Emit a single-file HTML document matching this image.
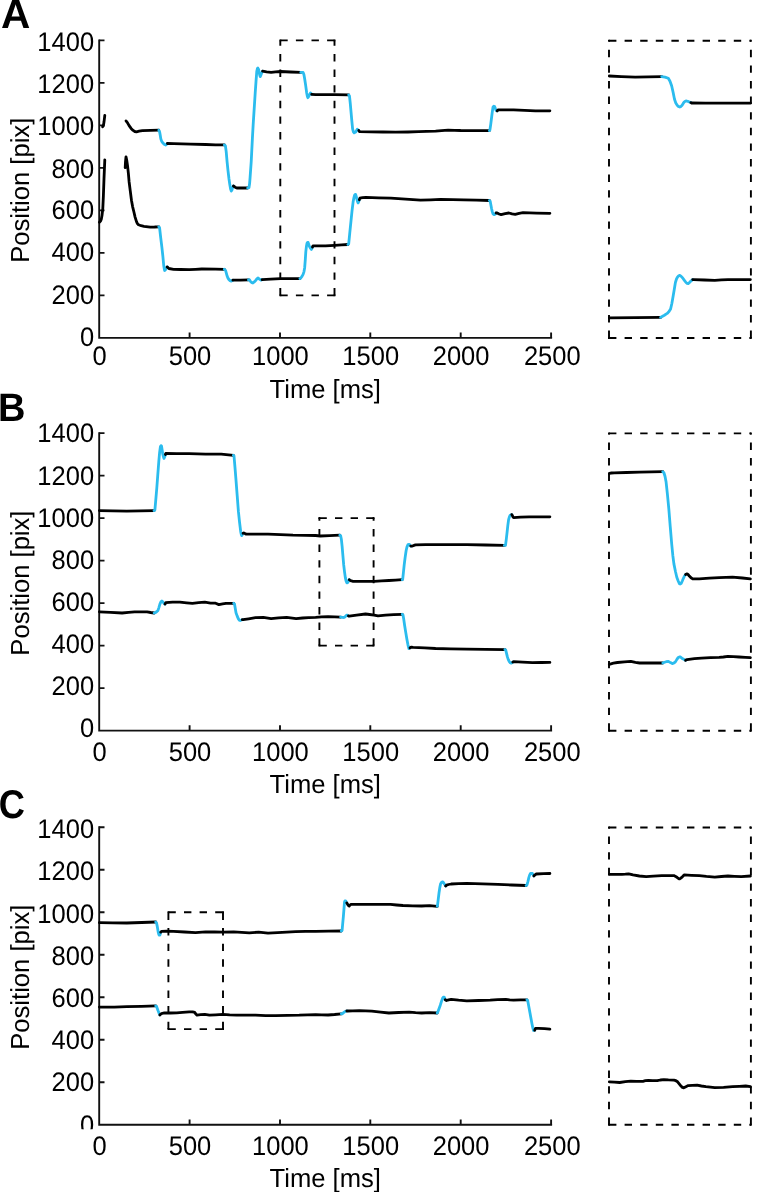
<!DOCTYPE html>
<html><head><meta charset="utf-8"><title>Figure</title>
<style>
html,body{margin:0;padding:0;background:#fff;}
body{width:769px;height:1192px;overflow:hidden;}
svg{display:block;will-change:transform;}
text{font-family:"Liberation Sans",sans-serif;fill:#000;text-rendering:geometricPrecision;}
.t{font-size:25.6px;}
.n{font-size:25.5px;}
.pl{font-size:39px;font-weight:bold;}
.ax{stroke:#111;stroke-width:1.9;fill:none;stroke-linecap:butt;}
.k{stroke:#000;stroke-width:2.8;fill:none;stroke-linejoin:round;stroke-linecap:round;}
.b{stroke:#2bbcee;stroke-width:2.8;fill:none;stroke-linejoin:round;stroke-linecap:round;}
.d{stroke:#000;stroke-width:1.9;fill:none;stroke-dasharray:7.4 8.2;stroke-linecap:butt;}
</style></head><body>
<svg width="769" height="1192" viewBox="0 0 769 1192">
<rect x="0" y="0" width="769" height="1192" fill="#fff"/>
<defs><clipPath id="cc"><rect x="0" y="0" width="769" height="1129.3"/></clipPath></defs>
<g id="panelA">
<text class="pl" transform="translate(0.9 27.5) scale(1.04 1.045)">A</text>
<path class="ax" d="M99.2 39.4V337.9H552.1"/>
<path class="ax" d="M99.2 295.4h5.3M99.2 252.9h5.3M99.2 210.4h5.3M99.2 167.9h5.3M99.2 125.4h5.3M99.2 82.9h5.3M99.2 40.4h5.3M189.6 337.9v-5.3M280 337.9v-5.3M370.3 337.9v-5.3M460.7 337.9v-5.3M551.1 337.9v-5.3"/>
<g><text class="n" text-anchor="end" transform="translate(94.1 345.9) scale(1 1.05)">0</text></g>
<g><text class="n" text-anchor="end" transform="translate(94.1 303.6) scale(1 1.05)">200</text></g>
<g><text class="n" text-anchor="end" transform="translate(94.1 261.4) scale(1 1.05)">400</text></g>
<g><text class="n" text-anchor="end" transform="translate(94.1 219.1) scale(1 1.05)">600</text></g>
<g><text class="n" text-anchor="end" transform="translate(94.1 177.5) scale(1 1.05)">800</text></g>
<g><text class="n" text-anchor="end" transform="translate(94.1 135.2) scale(1 1.05)">1000</text></g>
<g><text class="n" text-anchor="end" transform="translate(94.1 92.9) scale(1 1.05)">1200</text></g>
<g><text class="n" text-anchor="end" transform="translate(94.1 50.6) scale(1 1.05)">1400</text></g>
<text class="n" text-anchor="middle" transform="translate(99.6 365.1) scale(1 1.05)">0</text>
<text class="n" text-anchor="middle" transform="translate(190 365.1) scale(1 1.05)">500</text>
<text class="n" text-anchor="middle" transform="translate(280.4 365.1) scale(1 1.05)">1000</text>
<text class="n" text-anchor="middle" transform="translate(370.7 365.1) scale(1 1.05)">1500</text>
<text class="n" text-anchor="middle" transform="translate(461.1 365.1) scale(1 1.05)">2000</text>
<text class="n" text-anchor="middle" transform="translate(552.3 365.1) scale(1 1.05)">2500</text>
<text class="t" text-anchor="middle" transform="translate(325.2 397.5) scale(1 1.02)">Time [ms]</text>
<text class="t" text-anchor="middle" transform="translate(28.8 190.3) rotate(-90) scale(1 1.02)">Position [pix]</text>
<path class="d" d="M280.3 40.4H334.5"/>
<path class="d" d="M280.3 295.4H334.5"/>
<path class="d" d="M280.3 295.4V40.4"/>
<path class="d" d="M334.5 295.4V40.4"/>
<path fill="#000" d="M279.4 39.4h1.9v1.9h-1.9zM279.4 294.4h1.9v1.9h-1.9zM333.6 39.4h1.9v1.9h-1.9zM333.6 294.4h1.9v1.9h-1.9z"/>
<path class="d" d="M609 40.7H750.9"/>
<path class="d" d="M609 338H750.9"/>
<path class="d" d="M609 338V40.7"/>
<path class="d" d="M750.9 338V40.7"/>
<path fill="#000" d="M608 39.7h1.9v1.9h-1.9zM608 337.1h1.9v1.9h-1.9zM749.9 39.7h1.9v1.9h-1.9zM749.9 337.1h1.9v1.9h-1.9z"/>
<polyline class="k" points="102.6,126.8 103.4,125.6 104,122.1 104.8,115.4"/>
<polyline class="k" points="126,120.9 127.4,122.6 129.1,125.6 131.1,128.4 133.1,130.4 134.8,131.5 136.5,131.8 139.1,131.2 142.4,130.6 150.6,130.3 158.8,130.2"/>
<polyline class="b" points="158.8,130.2 159.6,131.8 160.2,135.1 160.8,138.8 161.6,141.1 162.7,142.7 164.2,144.2 165.8,145.1 167.4,143.5"/>
<polyline class="k" points="167.4,143.5 173.6,143.6 190.6,144.2 205.6,144.5 215.6,144.8 224.3,144.9"/>
<polyline class="b" points="224.3,144.9 225.4,145.8 226.2,151.6 227.1,161.8 228,170.6 229,179 229.8,184.6 230.6,189.1 231.3,191.1 231.9,190.1 232.4,188.3 233.4,186"/>
<polyline class="k" points="233.4,186 235.1,187.2 236.8,188 241.6,187.8 247.7,188"/>
<polyline class="b" points="247.7,188 249,187.6 249.6,183.6 250.1,177.4 251.2,161.8 252.4,138.4 253.2,124.2 254.2,108.6 255.2,93 256,81.6 256.8,71.2 257.4,68.6 257.9,68.1 258.5,69.1 259,71.2 259.6,74.6 260.2,76.6 260.9,75.1 261.5,73.5 262.6,71.2"/>
<polyline class="k" points="262.6,71.2 266.6,71.9 271.1,72.4 275.6,71.9 280.5,71.5 290.6,72 300.8,72.4"/>
<polyline class="b" points="300.8,72.4 303.1,72.4 303.9,74.6 304.7,79 305.7,85.6 306.7,93 307.3,96.1 307.8,97.7 308.6,96.6 309.4,94.9 310.5,93 311.7,94.3"/>
<polyline class="k" points="311.7,94.3 315.6,94.6 325.6,94.6 334.6,94.7 348.7,94.9"/>
<polyline class="b" points="348.7,94.9 349.5,96.1 350.2,102.6 351,111.7 351.8,120.6 352.6,128.9 353.4,131.8 354.2,132.8 355.7,132 357.3,129.2 358.8,130.5"/>
<polyline class="k" points="358.8,130.5 359.6,131.7 370.6,131.9 383,132 395.6,132.1 408,132 418.6,131.7 426.7,131.3 435.6,131.2 441.6,130.7 448.1,130.2 454.6,130.3 460.6,130.5 475.6,130.6 489.4,130.6"/>
<polyline class="b" points="489.4,130.6 489.9,130 490.7,124.6 491.5,118.3 492.2,112.6 493,107.1 493.8,106.2 494.6,106.6 495.4,108.6 496.1,110.6 497.2,110.8"/>
<polyline class="k" points="497.2,110.8 498,109.8 505.6,109.8 513.6,109.8 524.6,110.3 535.5,110.8 549.9,110.8"/>
<polyline class="k" points="99.4,222.2 100.6,221 101.3,219.2 102,215.6 102.8,208.6 103.4,195.6 104,178.6 104.8,159.9"/>
<polyline class="k" points="125.2,167.7 125.5,161.6 126,156.8 126.8,160.6 127.6,166.1 128.4,173.6 129.1,181.7 130.3,191.1 131.5,200.5 132.6,206.6 133.8,211.5 135.1,217.1 136.5,221.7 137.4,223.6 138.5,224.8 141.1,225.7 144,226.3 150.2,227.1 154.6,227 158.8,226.8"/>
<polyline class="b" points="158.8,226.8 159.6,227.9 160.7,237.6 161.9,247.4 162.9,256.6 163.8,266.1 164.3,269.1 164.7,270.5 165.8,269.3 167.1,266.9"/>
<polyline class="k" points="167.1,266.9 168.9,268.5 173.6,269.3 180.6,269.5 189.2,269.6 195.6,269.3 201.7,269 215.6,269.2 224.3,269.3"/>
<polyline class="b" points="224.3,269.3 225.6,270.5 226.4,273.4 227.1,276 228,278.1 229,279.6 230.1,280.6 231.3,281.1 232.9,280.2"/>
<polyline class="k" points="232.9,280.2 240.6,280.1 248.5,279.9"/>
<polyline class="b" points="248.5,279.9 249.3,279.6 250.1,280.8 250.9,281.8 251.9,282.6 252.9,283 254.2,281.9 255.5,280.7 256.7,279.1 257.9,278 259.4,279.1 261,280.2 262.1,279.6"/>
<polyline class="k" points="262.1,279.6 270.6,279.2 280.5,278.6 290.6,278.6 300,278.6"/>
<polyline class="b" points="300,278.6 300.8,278 302,276.4 303.1,274.4 304,271.6 304.7,267.4 305.3,259.6 305.8,251.8 306.4,246.6 307,243.2 307.6,242.3 308.1,242.4 308.7,244.1 309.4,246.3 310.4,248.2 311.4,249.5 312.5,247.1"/>
<polyline class="k" points="312.5,247.1 313,245.8 318.6,245.8 325.6,245.9 334.6,245.3 341.6,244.9 347.9,244.5"/>
<polyline class="b" points="347.9,244.5 348.7,243.9 349.8,232.6 351,220.8 352,211.1 353.1,202.1 353.9,197.8 354.6,195.1 355.2,194.4 355.7,194.6 356.3,196.6 356.8,199 357.4,201.2 358.1,202.9 358.7,201.6 359.3,199.8"/>
<polyline class="k" points="359.3,199.8 359.9,198.2 362.6,197.6 365.9,197.4 378.6,197.9 390.8,198.2 405.6,199.2 420.5,200.2 430.6,199.8 440.6,199.3 452.6,199.6 463.7,199.8 476.6,200.2 489.4,200.5"/>
<polyline class="b" points="489.4,200.5 490.2,201.3 490.8,204.6 491.5,208.3 492.2,211.4 493,213.8 493.8,214.6 494.6,214.6 496.1,213"/>
<polyline class="k" points="496.1,213 497.2,213 499.1,214 501.1,214.6 505.1,213.6 508.9,213 512.1,213.9 515.2,214.3 519.1,213.3 523,212.7 536.6,213.1 549.9,213.3"/>
<polyline class="k" points="609.3,76 621.4,76.6 635.2,77.2 648.4,76.9 661.7,76.7"/>
<polyline class="b" points="661.7,76.7 664.9,77.1 668.3,78.3 670,81.2 671.7,86 673.1,92.2 674.5,99.3 675.8,103 677.2,105.2 678.4,106.4 679.8,107 681,106.4 682.1,105.2 683.2,103.4 684.3,101.9 685.4,101.2 686.5,101 688.7,101.7 690.9,102.6"/>
<polyline class="k" points="690.9,102.6 691.6,103 705.4,103.2 719.2,103.2 735.4,103.2 750.4,103.2"/>
<polyline class="k" points="609.3,317.8 635.4,317.6 660.6,317.4"/>
<polyline class="b" points="660.6,317.4 661.7,316.7 664.4,315.2 667.2,313.4 669,311.6 670.6,309 671.9,303.2 673.2,295.7 674.3,289.2 675.4,282.5 676.5,279 677.6,276.9 678.7,275.8 679.8,275.4 681.2,276.4 682.7,278 684.4,280.4 686,282.5 687.1,283.4 688.2,283.6 689.4,282.7 690.5,281.4 692.7,279.6"/>
<polyline class="k" points="692.7,279.6 693.8,279.6 704.4,280 714.8,280.3 721.4,279.9 728,279.6 740.4,279.6 750.4,279.6"/>
</g>
<g id="panelB">
<text class="pl" transform="translate(-1.9 421.2) scale(0.975 1.02)">B</text>
<path class="ax" d="M99.2 432.2V730.6H552.1"/>
<path class="ax" d="M99.2 688.1h5.3M99.2 645.6h5.3M99.2 603.1h5.3M99.2 560.6h5.3M99.2 518.1h5.3M99.2 475.6h5.3M99.2 433.1h5.3M189.6 730.6v-5.3M280 730.6v-5.3M370.3 730.6v-5.3M460.7 730.6v-5.3M551.1 730.6v-5.3"/>
<g><text class="n" text-anchor="end" transform="translate(94.1 737.4) scale(1 1.05)">0</text></g>
<g><text class="n" text-anchor="end" transform="translate(94.1 695.1) scale(1 1.05)">200</text></g>
<g><text class="n" text-anchor="end" transform="translate(94.1 652.8) scale(1 1.05)">400</text></g>
<g><text class="n" text-anchor="end" transform="translate(94.1 610.5) scale(1 1.05)">600</text></g>
<g><text class="n" text-anchor="end" transform="translate(94.1 569.3) scale(1 1.05)">800</text></g>
<g><text class="n" text-anchor="end" transform="translate(94.1 527) scale(1 1.05)">1000</text></g>
<g><text class="n" text-anchor="end" transform="translate(94.1 484.7) scale(1 1.05)">1200</text></g>
<g><text class="n" text-anchor="end" transform="translate(94.1 442.4) scale(1 1.05)">1400</text></g>
<text class="n" text-anchor="middle" transform="translate(99.6 760.6) scale(1 1.05)">0</text>
<text class="n" text-anchor="middle" transform="translate(190 760.6) scale(1 1.05)">500</text>
<text class="n" text-anchor="middle" transform="translate(280.4 760.6) scale(1 1.05)">1000</text>
<text class="n" text-anchor="middle" transform="translate(370.7 760.6) scale(1 1.05)">1500</text>
<text class="n" text-anchor="middle" transform="translate(461.1 760.6) scale(1 1.05)">2000</text>
<text class="n" text-anchor="middle" transform="translate(552.3 760.6) scale(1 1.05)">2500</text>
<text class="t" text-anchor="middle" transform="translate(325.2 793) scale(1 1.02)">Time [ms]</text>
<text class="t" text-anchor="middle" transform="translate(28.8 583.1) rotate(-90) scale(1 1.02)">Position [pix]</text>
<path class="d" d="M319.4 518.1H373.6"/>
<path class="d" d="M319.4 645.6H373.6"/>
<path class="d" d="M319.4 645.6V518.1"/>
<path class="d" d="M373.6 645.6V518.1"/>
<path fill="#000" d="M318.4 517.1h1.9v1.9h-1.9zM318.4 644.6h1.9v1.9h-1.9zM372.6 517.1h1.9v1.9h-1.9zM372.6 644.6h1.9v1.9h-1.9z"/>
<path class="d" d="M609 433.4H750.9"/>
<path class="d" d="M609 730.7H750.9"/>
<path class="d" d="M609 730.7V433.4"/>
<path class="d" d="M750.9 730.7V433.4"/>
<path fill="#000" d="M608 432.5h1.9v1.9h-1.9zM608 729.8h1.9v1.9h-1.9zM749.9 432.5h1.9v1.9h-1.9zM749.9 729.8h1.9v1.9h-1.9z"/>
<polyline class="k" points="99.4,510.6 112.6,510.8 126.8,511.1 140.6,510.9 154.1,510.6"/>
<polyline class="b" points="154.1,510.6 154.9,509.9 155.8,499.6 156.8,488 157.8,474.6 158.8,461.5 159.6,452.6 160.4,446.7 161,445.6 161.5,445.9 162.1,449.6 162.7,453.7 163.4,456.8 164,458.4 164.7,456.8 165.4,454.5"/>
<polyline class="k" points="165.4,454.5 165.8,453.4 176.6,453.6 189.2,453.7 205.6,454.2 221.2,454.2 233.4,455.3"/>
<polyline class="b" points="233.4,455.3 234,456 235,467.6 236,480.2 237.2,495.6 238.4,511.4 239.6,522.6 240.7,531.7 241.3,534.4 241.8,535.6 242.4,534.6 243.1,533.3"/>
<polyline class="k" points="243.1,533.3 243.8,533 245,533.6 246.2,534.1 256.6,534.1 268,534.1 280.6,534.6 293,535.2 305.6,535.3 315.6,535.5 320.3,536 329.6,535.6 339.8,535.2"/>
<polyline class="b" points="339.8,535.2 340.6,535.5 341.4,539.6 342.1,546.1 342.9,555.6 343.7,564.9 344.5,571.6 345.3,577.4 346,580.8 346.8,582.8 347.4,582.8 348.1,582 349.2,579.7"/>
<polyline class="k" points="349.2,579.7 349.9,580.2 351.4,580.9 353.1,581.3 363.6,581.4 374.1,581.3 381.6,580.9 388.9,580.5 395.6,580.1 402.2,579.7"/>
<polyline class="b" points="402.2,579.7 402.7,579.2 403.4,572.6 404.2,564.9 405.1,557.6 406.1,550.8 407,546.9 408,544.6 409.2,544.3 410.8,546.1"/>
<polyline class="k" points="410.8,546.1 412.4,546.1 413.9,545.4 415.5,544.9 425.6,544.7 435.6,544.6 450.6,544.6 466.8,544.6 485.6,545 504.3,545.4"/>
<polyline class="b" points="504.3,545.4 505.5,545.4 506.3,539.1 507.1,532.1 507.8,525.6 508.6,519.6 509.4,516.8 510.2,515.2 511.8,514.6"/>
<polyline class="k" points="511.8,514.6 512.4,515.7 513,517 513.6,517.7 520.6,517.2 529.2,516.8 540.6,516.8 549.9,516.8"/>
<polyline class="k" points="99.4,611.9 110.6,612.4 122.1,613 128.6,612.3 134.6,611.9 147.1,611.9 150.6,612.5 154.1,613"/>
<polyline class="b" points="154.1,613 155.2,612.7 156.6,611.8 158,610.4 158.9,607.6 159.9,604.1 160.9,601.9 161.9,601 163,602 164,603.3 165,604.1"/>
<polyline class="k" points="165,604.1 165.8,602.6 172.6,602.2 179.9,602.1 186.6,602.8 192.4,603.3 198.6,602.6 204.8,602.2 210.6,603.1 215.6,603.2 218.9,604.6 222.6,603.8 225.9,603.3 233.7,603.3"/>
<polyline class="b" points="233.7,603.3 234.5,604.1 235.2,608.1 236,612.7 237.2,616.1 238.4,618.9 239.3,620.1 240.2,620.5 242.3,619.7"/>
<polyline class="k" points="242.3,619.7 243.1,619.7 248.6,618.8 255.5,617.7 263.3,617.4 271.1,618.6 278.6,617.9 286.7,617.4 296.1,618.6 302.6,618 308.6,617.7 315.6,617.4 321.6,616.9 328.1,616.6 334.6,616.9 340.6,617.1"/>
<polyline class="b" points="340.6,617.1 341.3,617.1 342.9,617.5 344.5,617.4 345.6,616.2 346.8,615.1 347.6,615.4 348.4,615.9"/>
<polyline class="k" points="348.4,615.9 349.2,616.2 356.6,615.1 365.5,614 369.6,614.5 374.1,615.1 378,615.9 385.6,615.2 393.6,614.6 402.2,614.3"/>
<polyline class="b" points="402.2,614.3 403,615.1 403.8,619.6 404.6,625.2 405.7,632.1 406.9,639.3 407.9,644.6 408.9,648.6 410,647.9"/>
<polyline class="k" points="410,647.9 411.1,647.1 413.1,647.4 424.6,647.9 435.6,648.5 450.6,648.9 466.8,649.1 485.6,649.4 505,649.6"/>
<polyline class="b" points="505,649.6 505.8,650.2 506.6,653.6 507.4,656.9 508.3,659.6 509.3,661.6 510.3,662.8 511.3,663.2 512.8,662.1"/>
<polyline class="k" points="512.8,662.1 513.6,661.6 522.6,662.2 532.4,662.7 541.6,662.5 549.9,662.4"/>
<polyline class="k" points="609.3,473.3 611.4,473 614.2,472.8 626.4,472.5 639.6,472.2 651.4,471.9 662.8,471.7"/>
<polyline class="b" points="662.8,471.7 663.9,472.8 665,476.2 666.1,482.1 667.4,494.2 668.8,508.6 670.2,526.2 671.7,544 672.8,555.2 673.9,563.9 675.4,571.2 676.8,577.2 678.1,580.8 679.4,583.8 680.3,584 681.2,583.3 682.3,581 683.4,578.3 684.5,576 685.6,574.5"/>
<polyline class="k" points="685.6,574.5 687.1,573.8 688.2,574.7 689.3,576.1 691,577.8 692.7,578.9 699.3,578.9 709.4,578.2 719.2,577.6 732.5,577.2 742.4,578 750.4,578.9"/>
<polyline class="k" points="609.3,664.3 613.4,663.2 617.5,662.5 624.4,661.8 630.8,661.4 635.4,662.4 639.6,663 651.4,663 662.8,663"/>
<polyline class="b" points="662.8,663 663.9,662.5 666.2,661.7 668.4,661.4 670.4,662.6 672.3,663.6 673.9,663 675.4,661.9 676.9,659.4 678.3,657.4 679.4,656.9 680.5,657 682.7,658.8 685.6,660.3"/>
<polyline class="k" points="685.6,660.3 687.1,659.6 694.4,658.7 701.5,658.1 710.4,657.7 719.2,657.4 723.4,657 728,656.3 733.4,656.7 739.1,657 745.4,657.3 750.4,657.7"/>
</g>
<g id="panelC">
<text class="pl" transform="translate(-1.2 817.9) scale(0.93 1.025)">C</text>
<path class="ax" d="M99.2 826.2V1124.7H552.1"/>
<path class="ax" d="M99.2 1082.2h5.3M99.2 1039.7h5.3M99.2 997.2h5.3M99.2 954.7h5.3M99.2 912.2h5.3M99.2 869.7h5.3M99.2 827.2h5.3M189.6 1124.7v-5.3M280 1124.7v-5.3M370.3 1124.7v-5.3M460.7 1124.7v-5.3M551.1 1124.7v-5.3"/>
<g clip-path="url(#cc)"><text class="n" text-anchor="end" transform="translate(94.1 1133.7) scale(1 1.05)">0</text></g>
<g><text class="n" text-anchor="end" transform="translate(94.1 1091.4) scale(1 1.05)">200</text></g>
<g><text class="n" text-anchor="end" transform="translate(94.1 1049.1) scale(1 1.05)">400</text></g>
<g><text class="n" text-anchor="end" transform="translate(94.1 1006.8) scale(1 1.05)">600</text></g>
<g><text class="n" text-anchor="end" transform="translate(94.1 965) scale(1 1.05)">800</text></g>
<g><text class="n" text-anchor="end" transform="translate(94.1 922.7) scale(1 1.05)">1000</text></g>
<g><text class="n" text-anchor="end" transform="translate(94.1 880.4) scale(1 1.05)">1200</text></g>
<g><text class="n" text-anchor="end" transform="translate(94.1 838.1) scale(1 1.05)">1400</text></g>
<text class="n" text-anchor="middle" transform="translate(99.6 1154.6) scale(1 1.05)">0</text>
<text class="n" text-anchor="middle" transform="translate(190 1154.6) scale(1 1.05)">500</text>
<text class="n" text-anchor="middle" transform="translate(280.4 1154.6) scale(1 1.05)">1000</text>
<text class="n" text-anchor="middle" transform="translate(370.7 1154.6) scale(1 1.05)">1500</text>
<text class="n" text-anchor="middle" transform="translate(461.1 1154.6) scale(1 1.05)">2000</text>
<text class="n" text-anchor="middle" transform="translate(552.3 1154.6) scale(1 1.05)">2500</text>
<text class="t" text-anchor="middle" transform="translate(325.2 1187) scale(1 1.02)">Time [ms]</text>
<text class="t" text-anchor="middle" transform="translate(28.8 977.2) rotate(-90) scale(1 1.02)">Position [pix]</text>
<path class="d" d="M168.4 912.2H223"/>
<path class="d" d="M168.4 1029.1H223"/>
<path class="d" d="M168.4 1029.1V912.2"/>
<path class="d" d="M223 1029.1V912.2"/>
<path fill="#000" d="M167.5 911.2h1.9v1.9h-1.9zM167.5 1028.1h1.9v1.9h-1.9zM222.1 911.2h1.9v1.9h-1.9zM222.1 1028.1h1.9v1.9h-1.9z"/>
<path class="d" d="M609 827.5H750.9"/>
<path class="d" d="M609 1124.8H750.9"/>
<path class="d" d="M609 1124.8V827.5"/>
<path class="d" d="M750.9 1124.8V827.5"/>
<path fill="#000" d="M608 826.5h1.9v1.9h-1.9zM608 1123.8h1.9v1.9h-1.9zM749.9 826.5h1.9v1.9h-1.9zM749.9 1123.8h1.9v1.9h-1.9z"/>
<polyline class="k" points="99.4,922.7 112.6,922.9 126.8,923 141.6,922.5 155.7,922"/>
<polyline class="b" points="155.7,922 156.5,922.7 157.1,925.6 157.7,929 158.2,932.1 158.8,934.4 159.3,935.2 159.9,935.2 160.8,932.1"/>
<polyline class="k" points="160.8,932.1 161.5,931.3 166.6,931.2 173.6,931.3 184.6,932 195.5,932.6 205.6,931.8 214.6,932 222.8,932.1 233.7,931.8 241.6,932.4 249.3,932.9 258.7,932.1 268,933.2 277.6,932.6 286.7,932.1 295.6,931.7 305.5,931.3 315.6,931.4 328.6,931.2 341.3,931"/>
<polyline class="b" points="341.3,931 342.1,930.5 342.7,923.6 343.4,916.1 344,908.6 344.5,902.1 345,900.9 345.6,900.8 346.8,902.9"/>
<polyline class="k" points="346.8,902.9 347.6,904.4 348.4,905.5 349.2,906 349.9,905.2 350.7,904.4 363.6,904.3 378,904.4 390.5,904.4 396.6,905 403,905.5 412.6,905.8 421.7,906 429.6,905.7 437.2,906.3"/>
<polyline class="b" points="437.2,906.3 437.5,905.5 438.2,899.6 439,893 439.8,887.6 440.6,883.7 441.6,882.2 442.6,881.8 443.4,882.6 444.2,883.7 445.7,886"/>
<polyline class="k" points="445.7,886 446.5,885.2 448.6,884.5 451.2,884 458.6,883.6 466.8,883.3 482.6,883.9 498,884.4 511.6,885 526.1,885.5"/>
<polyline class="b" points="526.1,885.5 526.9,885.2 527.9,881.6 528.9,877.4 529.7,874.9 530.5,873.5 532.4,873.5 533.9,875.9"/>
<polyline class="k" points="533.9,875.9 534.7,875.1 536.3,874 543.6,873.7 549.9,873.5"/>
<polyline class="k" points="99.4,1007.1 114.3,1007.1 126.8,1006.6 141.6,1006.3 155.7,1005.9"/>
<polyline class="b" points="155.7,1005.9 156.5,1006.3 157.2,1008.2 158,1010.5 158.9,1012.8 159.9,1014.9"/>
<polyline class="k" points="159.9,1014.9 160.8,1014 162.4,1013.3 164.3,1012.9 170.6,1013 176.7,1012.9 182.6,1012.3 189.2,1011.8 192.6,1011.8 194.7,1012.4 195.9,1014.1 197,1015.2 200.6,1014.7 204.8,1014.4 209.5,1015.2 215.6,1014.9 222.8,1014.4 229.6,1014.9 236.8,1015.2 245.6,1015.1 255.5,1015.2 265.6,1015.6 275.8,1015.7 287.6,1015.4 299.2,1015.2 307.6,1014.8 315.6,1014.6 321.6,1014.9 328.1,1015 334.6,1014.5 341.3,1013.8"/>
<polyline class="b" points="341.3,1013.8 342.1,1013.8 343.3,1012.8 344.5,1011.9 345.6,1011.3 346.8,1011"/>
<polyline class="k" points="346.8,1011 347.6,1011 352.6,1010.8 359.3,1010.7 365.6,1010.8 371.8,1011.1 380.6,1012.1 388.9,1013 398.6,1012.5 409.2,1012.2 415.6,1012.7 421.7,1013 429.6,1012.7 437.2,1013"/>
<polyline class="b" points="437.2,1013 437.9,1011.8 439.1,1008.6 440.3,1005.2 441.4,1001.6 442.6,998.2 443.4,997.2 444.2,997.1 445.3,999.8"/>
<polyline class="k" points="445.3,999.8 446.5,1000.5 448.6,999.8 451.2,999.3 458.6,1000.1 466.8,1000.8 478.6,1000.5 490.2,1000.2 497.6,999.7 505.8,999.3 509.6,999.8 513.6,1000.2 520.6,999.9 526.9,999.8"/>
<polyline class="b" points="526.9,999.8 527.7,1000.5 528.8,1006.6 530,1013 531,1018.6 532,1023.9 532.8,1027.8 533.6,1030.5 534.7,1030.2"/>
<polyline class="k" points="534.7,1030.2 535.5,1028.3 538.6,1028.3 544.6,1028.7 549.9,1029.1"/>
<polyline class="k" points="609.3,874.4 621.9,874.4 625.4,874.2 628.6,873.8 630.9,874.3 633,874.9 639.4,876 646.2,876.7 653.4,876.1 661.7,875.6 673.9,875.6 675.6,876.4 677.2,877.5 678.4,878.4 679.4,878.9 680.7,878.2 682.1,877.1 683.2,875.8 684.3,874.9 691.4,875.3 699.3,875.6 706.4,876.4 714.8,877.1 721.4,876.5 728,876 734.4,876.4 741.3,876.7 750.4,876"/>
<polyline class="k" points="609.3,1081.8 614.4,1082.2 619.7,1082.5 625.4,1081.7 630.8,1081.2 636.4,1081.4 642.9,1081.4 645.4,1080.7 648.5,1080.3 652.4,1080.6 657.3,1080.7 660.4,1080 663.9,1079.6 668.4,1079.9 673.9,1080.1 675.9,1080.7 677.6,1081.8 679.4,1084.1 681.2,1086.3 682.4,1087.4 683.8,1087.8 685.9,1086.7 688.2,1085.6 692.4,1085.3 697.1,1085.2 701.4,1086 705.9,1086.7 710.4,1087.2 714.8,1087.6 723.6,1087.4 732.5,1086.7 739.4,1086.3 745.7,1086 750.4,1086.7"/>
</g>
</svg>
</body></html>
